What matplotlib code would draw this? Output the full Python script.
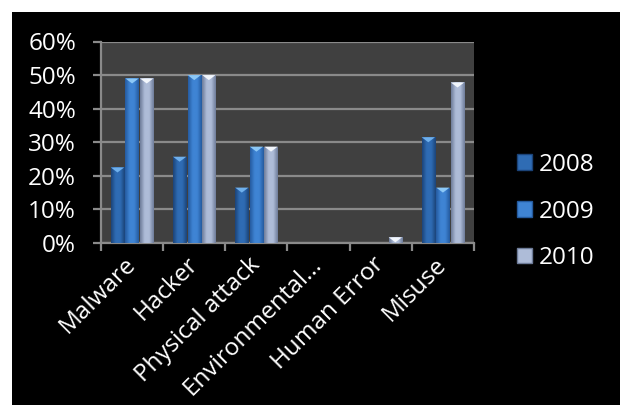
import numpy as np
import matplotlib
matplotlib.use("Agg")
import matplotlib.pyplot as plt
from matplotlib.patches import Rectangle, Polygon, Patch
from matplotlib.colors import LinearSegmentedColormap
from matplotlib.ticker import FixedLocator, PercentFormatter

categories = ["Malware", "Hacker", "Physical attack", "Environmental...", "Human Error", "Misuse"]
years = ["2008", "2009", "2010"]
v2008 = [22.5, 25.7, 16.5, 0, 0, 31.5]
v2009 = [49.0, 50.0, 28.7, 0, 0, 16.5]
v2010 = [49.0, 50.0, 28.7, 0, 1.7, 47.8]
yticks = [0, 10, 20, 30, 40, 50, 60]

# edge / centre / highlight colours of each series
shades = {
    "2008": ("#1b4378", "#2f6cb4", "#6fb0ec"),
    "2009": ("#245a9e", "#3f84d4", "#8cc8f6"),
    "2010": ("#6d7b98", "#aebcd8", "#f2f6fc"),
}

plt.rcParams["font.family"] = ["Open Sans", "DejaVu Sans"]
FS = 17.5
W, H = 620, 405
fig = plt.figure(figsize=(W / 100, H / 100), dpi=100, facecolor="white")
fig.patches.append(Rectangle((12 / W, 0), 1, 1 - 12 / H, transform=fig.transFigure,
                             facecolor="black", edgecolor="none", zorder=-10))

ax = fig.add_axes([101 / W, 1 - 243 / H, 373 / W, (243 - 41.5) / H])
ax.set_facecolor("#404040")

x = np.arange(len(categories))
bw = 0.215
gap = 0.02
series = [v2008, v2009, v2010]
for i, (yr, vals) in enumerate(zip(years, series)):
    off = (i - 1) * (bw + gap)
    edge, mid, hi = shades[yr]
    cmap = LinearSegmentedColormap.from_list(yr, [edge, mid, mid, edge])
    grad = np.linspace(0, 1, 64).reshape(1, -1)
    bars = ax.bar(x + off, vals, width=bw, color=mid, edgecolor="none", zorder=2)
    for b, v in zip(bars, vals):
        if v <= 0:
            continue
        x0, x1 = b.get_x(), b.get_x() + b.get_width()
        im = ax.imshow(grad, cmap=cmap, aspect="auto", extent=(x0, x1, 0, v),
                       zorder=3, interpolation="bicubic")
        im.set_clip_path(b)
        th = min(1.5, v)
        tri = Polygon([(x0, v), (x1, v), ((x0 + x1) / 2, v - th)], closed=True,
                      facecolor=hi, edgecolor="none", zorder=4)
        ax.add_patch(tri)

ax.set_xlim(-0.5, len(categories) - 0.5)
ax.set_ylim(0, 60)
ax.yaxis.set_major_locator(FixedLocator(yticks))
ax.yaxis.set_major_formatter(PercentFormatter(decimals=0))
grid_c = "#8a8a8a"
ax.grid(axis="y", color=grid_c, linewidth=1.6, zorder=1)
ax.set_axisbelow(True)

for s in ("top", "right"):
    ax.spines[s].set_visible(False)
for s in ("left", "bottom"):
    ax.spines[s].set_color(grid_c)
    ax.spines[s].set_linewidth(1.6)

ax.set_xticks(np.arange(-0.5, len(categories)), minor=False)
ax.set_xticklabels([])
ax.set_xticks(x, minor=True)
ax.set_xticklabels(categories, minor=True, rotation=45, ha="right", va="center",
                   rotation_mode="anchor", color="white", fontsize=FS)
ax.tick_params(axis="x", which="major", length=6, width=1.6, color=grid_c, direction="out")
ax.tick_params(axis="x", which="minor", length=0, pad=13)
ax.tick_params(axis="y", length=6, width=1.6, color=grid_c, labelcolor="white",
               labelsize=FS, pad=12)

handles = [Patch(facecolor=shades[y][1], edgecolor=shades[y][0], linewidth=1) for y in years]
leg = fig.legend(handles, years, loc="center left", bbox_to_anchor=(517 / W, 1 - 211.5 / H),
                 frameon=False, borderpad=0, borderaxespad=0, fontsize=FS,
                 handlelength=0.62, handleheight=0.62, handletextpad=0.28,
                 labelspacing=0.93, labelcolor="white")

fig.savefig("out.png", dpi=100, facecolor=fig.get_facecolor())
